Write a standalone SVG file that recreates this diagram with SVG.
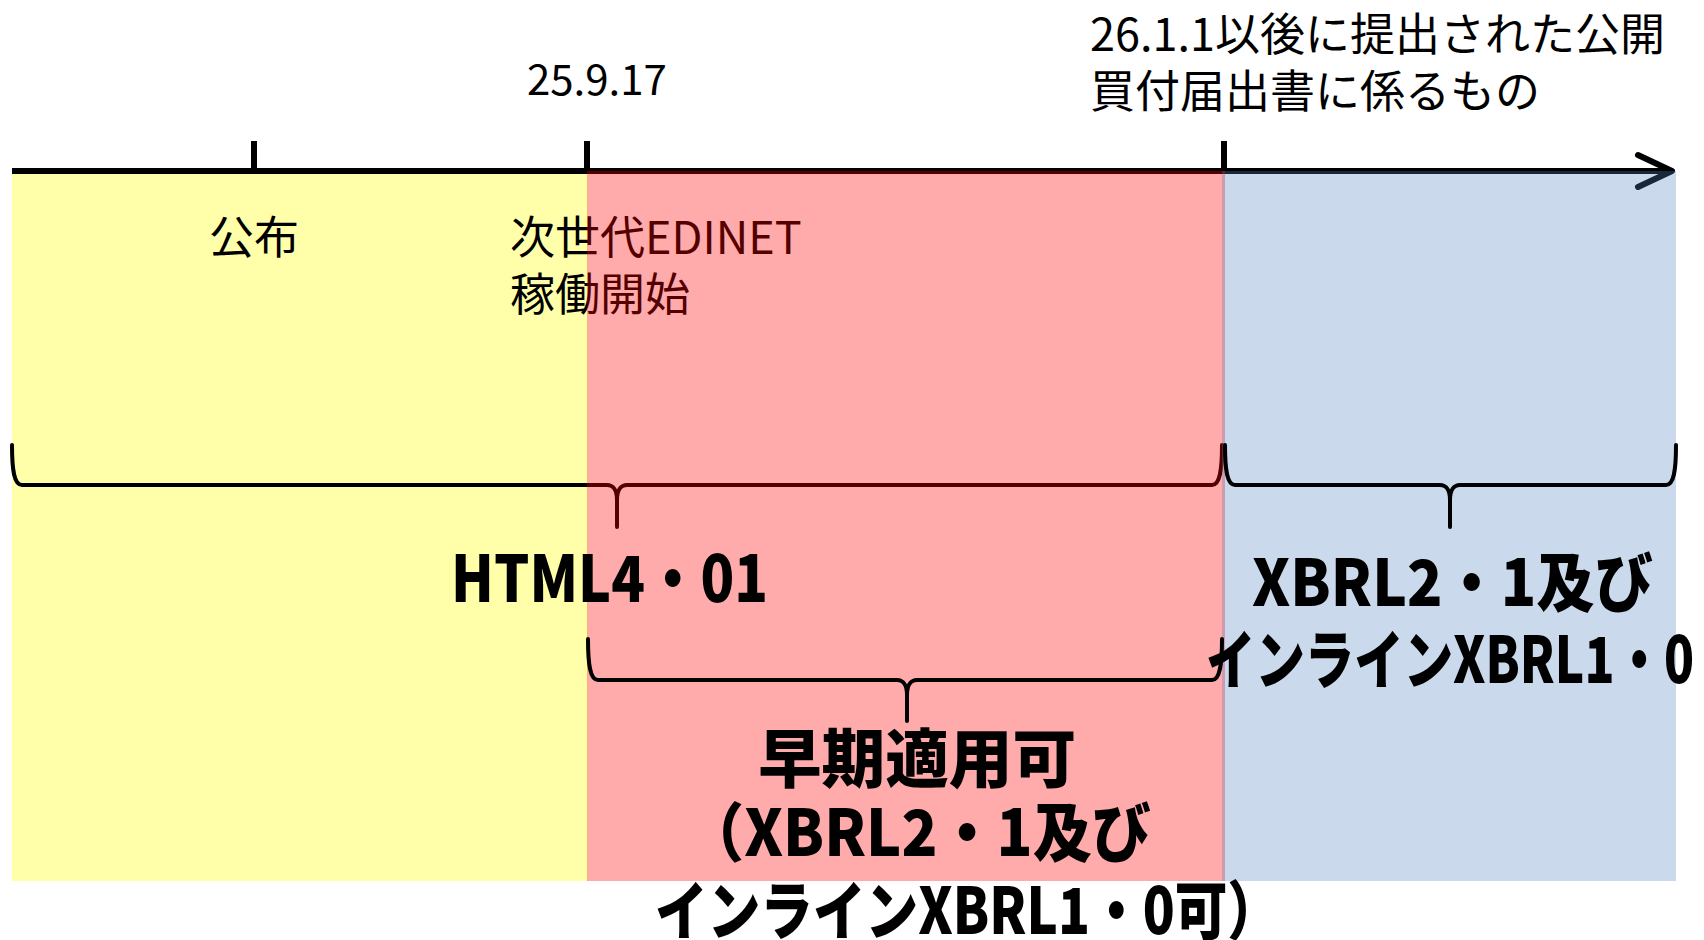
<svg xmlns="http://www.w3.org/2000/svg" width="1704" height="940" viewBox="0 0 1704 940">
<style>
.lbl{font-family:"Noto Sans CJK JP","Noto Sans",sans-serif;font-size:45px;fill:#000}
.big{font-family:"Noto Sans CJK JP","Noto Sans",sans-serif;font-size:64px;font-weight:900;fill:#000}
.line{stroke:#000;stroke-width:6;fill:none}
.brace{stroke:#000;stroke-width:4;fill:none;stroke-linecap:round;stroke-linejoin:round}
</style>
<defs>
<marker id="chev" markerUnits="userSpaceOnUse" markerWidth="44" markerHeight="44" viewBox="-40 -20 44 40" refX="0" refY="0" orient="auto">
<path d="M-34,-16 L0,0 L-34,16" fill="none" stroke="#000" stroke-width="6" stroke-linecap="round" stroke-linejoin="round"/>
</marker>
</defs>
<g id="period-current"><rect x="12" y="171" width="576" height="710" fill="#FFFFAA"/></g>
<g id="connectors">
<line class="line" x1="12" y1="171" x2="1672" y2="171" marker-end="url(#chev)"/>
<line class="line" x1="254" y1="141" x2="254" y2="171"/>
<line class="line" x1="587" y1="141" x2="587" y2="171"/>
<line class="line" x1="1224" y1="141" x2="1224" y2="171"/>
<path id="brace-html" class="brace" d="M12,445 C12,470 14,485 22,485 L607,485 C613,485 617,490 617,500 L617,527 M617,500 C617,490 621,485 627,485 L1212,485 C1220,485 1222,470 1222,445"/>
</g>
<g id="label-edinet"><text class="lbl" x="510" y="254">次世代EDINET</text><text class="lbl" x="510" y="311">稼働開始</text></g>
<g id="period-early"><rect x="587" y="171" width="638" height="710" fill="#FF0000" fill-opacity="0.33"/></g>
<g id="period-new"><rect x="1222" y="171" width="454" height="710" fill="#4F81BD" fill-opacity="0.3"/></g>
<g id="connectors-front">
<path id="brace-early" class="brace" d="M588,639 C588,664 590,680 598,680 L897,680 C903,680 907,685 907,695 L907,721 M907,695 C907,685 911,680 917,680 L1212,680 C1220,680 1222,664 1222,639"/>
<path id="brace-new" class="brace" d="M1225,445 C1225,470 1227,485 1235,485 L1440,485 C1446,485 1450,490 1450,500 L1450,527 M1450,500 C1450,490 1454,485 1460,485 L1666,485 C1674,485 1676,470 1676,445"/>
</g>
<g id="label-koufu"><text class="lbl" x="254" y="254" text-anchor="middle">公布</text></g>
<g id="label-date1"><text class="lbl" x="527" y="95" style="font-size:42px">25.9.17</text></g>
<g id="label-date2"><text class="lbl" x="1090" y="51">26.1.1以後に提出された公開</text><text class="lbl" x="1090" y="108">買付届出書に係るもの</text></g>
<g id="label-html"><text class="big" x="451" y="602" textLength="317" lengthAdjust="spacingAndGlyphs">HTML4・01</text></g>
<g id="label-xbrl"><text class="big" x="1252" y="606" textLength="401" lengthAdjust="spacingAndGlyphs">XBRL2・1及び</text><text class="big" x="1206" y="683" textLength="488" lengthAdjust="spacingAndGlyphs">インラインXBRL1・0</text></g>
<g id="label-early"><text class="big" x="758" y="782" textLength="318" lengthAdjust="spacingAndGlyphs">早期適用可</text><text class="big" x="685" y="856" textLength="466" lengthAdjust="spacingAndGlyphs">（XBRL2・1及び</text><text class="big" x="655" y="934" textLength="625" lengthAdjust="spacingAndGlyphs">インラインXBRL1・0可）</text></g>
</svg>
